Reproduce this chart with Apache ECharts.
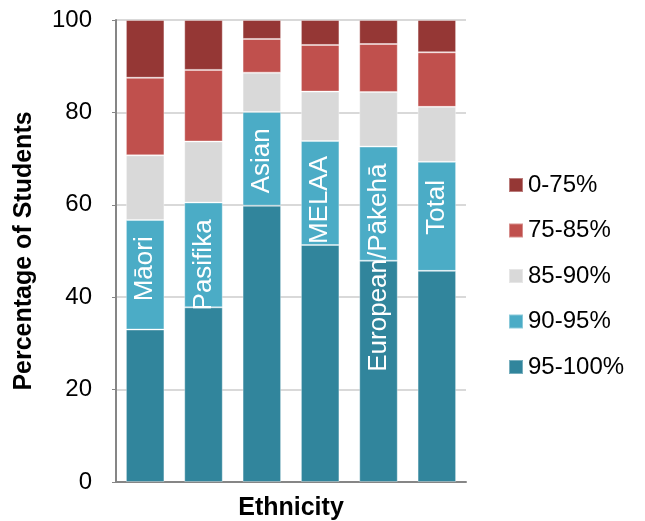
<!DOCTYPE html>
<html>
<head>
<meta charset="utf-8">
<script src="https://cdn.jsdelivr.net/npm/echarts@6/dist/echarts.min.js"></script>
<style>
  html, body { margin: 0; padding: 0; background: #ffffff; }
  #chart { width: 645px; height: 521px; }
</style>
</head>
<body>
<div id="chart"></div>
<script>
// Attendance bands by ethnicity (percentage of students in each band)
const categories = ['Māori', 'Pasifika', 'Asian', 'MELAA', 'European/Pākehā', 'Total'];
const band95to100 = [33.0, 37.8, 59.8, 51.3, 47.9, 45.7];
const band90to95  = [23.7, 22.7, 20.3, 22.5, 24.7, 23.6];
const band85to90  = [14.0, 13.2, 8.5, 10.7, 11.8, 11.9];
const band75to85  = [16.8, 15.5, 7.3, 10.1, 10.4, 11.8];
const band0to75   = [12.5, 10.8, 4.1, 5.4, 5.2, 7.0];
const yTicks = [0, 20, 40, 60, 80, 100];

// Downward nudge (px) of each in-bar category name; the label is rotated,
// so the shift goes along its own (negative) x direction
const nameNudge = [-6, 10, 2, 7, 64, -9];

const FONT = '"Liberation Sans", Arial, sans-serif';
const segBorder = { borderColor: 'rgba(255,255,255,0.35)', borderWidth: 1 };

function band(name, values, color, extra) {
  return Object.assign({
    name: name,
    type: 'bar',
    stack: 'all',
    barCategoryGap: '34%',
    itemStyle: Object.assign({ color: color }, segBorder),
    data: values
  }, extra || {});
}

const chart = echarts.init(document.getElementById('chart'), null, { renderer: 'canvas' });

chart.setOption({
  animation: false,
  textStyle: { fontFamily: FONT },
  grid: { left: 116, right: 179, top: 20, bottom: 39, containLabel: false, outerBoundsMode: 'none' },
  legend: {
    orient: 'vertical',
    left: 503,
    top: 168,
    icon: 'rect',
    itemWidth: 14,
    itemHeight: 14,
    itemGap: 21.5,
    textStyle: { fontFamily: FONT, fontSize: 24, color: '#000', lineHeight: 24 },
    data: ['0-75%', '75-85%', '85-90%', '90-95%', '95-100%']
  },
  xAxis: {
    type: 'category',
    data: categories,
    name: 'Ethnicity',
    nameLocation: 'middle',
    nameGap: 14,
    nameTextStyle: { fontFamily: FONT, fontSize: 25, fontWeight: 'bold', color: '#000' },
    axisLine: { lineStyle: { color: '#868686', width: 2 } },
    axisTick: { show: false },
    axisLabel: { show: false }
  },
  yAxis: {
    type: 'value',
    min: yTicks[0],
    max: yTicks[yTicks.length - 1],
    interval: 20,
    name: 'Percentage of Students',
    nameLocation: 'middle',
    nameGap: 79,
    nameTextStyle: { fontFamily: FONT, fontSize: 25, fontWeight: 'bold', color: '#000' },
    axisLine: { show: true, lineStyle: { color: '#868686', width: 2 } },
    axisTick: { show: true, length: 4, lineStyle: { color: '#868686' } },
    axisLabel: { fontFamily: FONT, fontSize: 24, color: '#000', margin: 24 },
    splitLine: { lineStyle: { color: '#D9D9D9', width: 2 } }
  },
  series: [
    band('95-100%', band95to100, '#31859C'),
    band('90-95%', band90to95.map((v, i) => ({
      value: v,
      label: { offset: [-nameNudge[i], 0] }
    })), '#4BACC6', {
      label: {
        show: true,
        position: 'inside',
        rotate: 90,
        color: '#ffffff',
        fontFamily: FONT,
        fontSize: 26,
        formatter: (p) => categories[p.dataIndex]
      }
    }),
    band('85-90%', band85to90, '#D9D9D9'),
    band('75-85%', band75to85, '#C0504D'),
    band('0-75%', band0to75, '#953735')
  ]
});
</script>
</body>
</html>
